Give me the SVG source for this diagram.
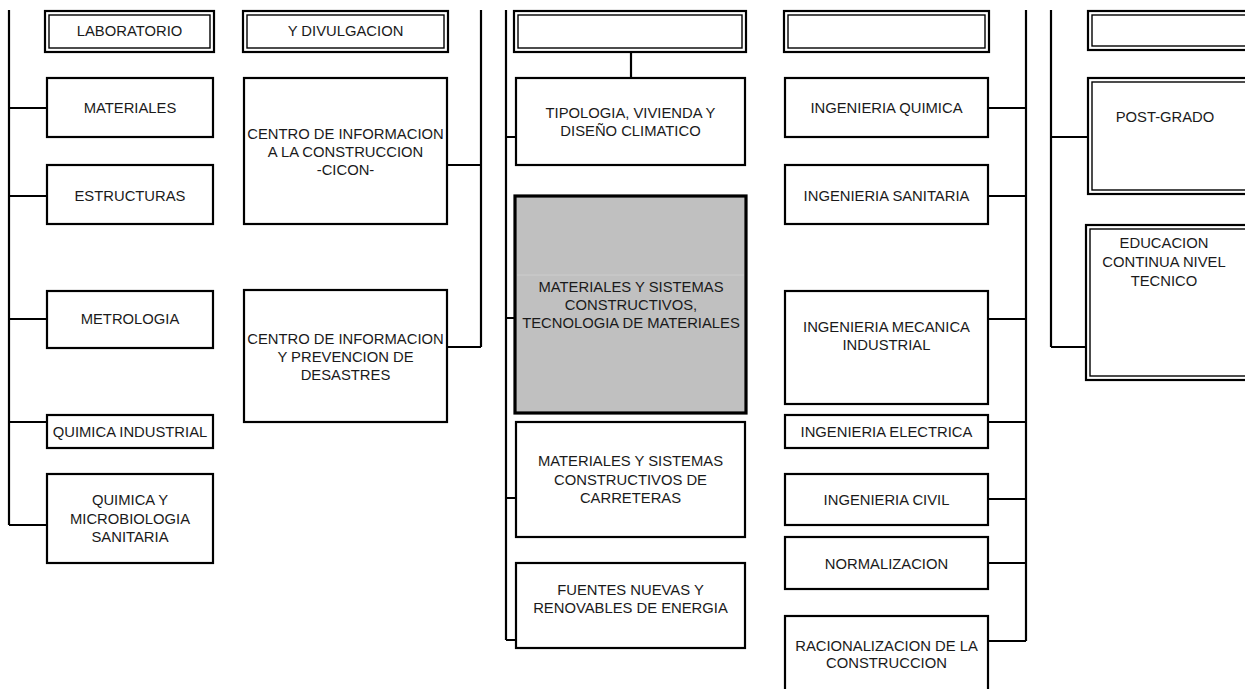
<svg xmlns="http://www.w3.org/2000/svg" width="1245" height="689" viewBox="0 0 1245 689">
<style>
.bx{fill:#fff;stroke:#000;stroke-width:2.2}
.gx{fill:#c0c0c0;stroke:#000;stroke-width:3.2}
.do{fill:#fff;stroke:#000;stroke-width:2.2}
.di{fill:none;stroke:#000;stroke-width:1.4}
.ln{fill:none;stroke:#000;stroke-width:2.2}
text{font-family:"Liberation Sans",Arial,sans-serif;font-size:14.8px;fill:#1a1a1a;text-anchor:middle}
</style>
<rect width="1245" height="689" fill="#fff"/>
<g id="connectors">
<path class="ln" d="M9,10V525M9,108H47M9,196H47M9,319H47M9,422H47M9,525H47"/>
<path class="ln" d="M481,10V347M447,165H481M447,347H481"/>
<path class="ln" d="M506,10V640M506,137H516M506,318H515M506,498H516M506,640H516"/>
<path class="ln" d="M631,52V78"/>
<path class="ln" d="M1026,10V641M988,108H1026M988,196H1026M988,319H1026M988,422H1026M988,499H1026M988,563H1026M988,641H1026"/>
<path class="ln" d="M1051,10V347M1051,137H1087M1051,347H1085"/>
</g>
<g id="n-laboratorio">
<rect class="do" x="45" y="11" width="169" height="41"/><rect class="di" x="49" y="15" width="161" height="33"/>
<text x="129.5" y="36">LABORATORIO</text>
</g>
<g id="n-divulgacion">
<rect class="do" x="243" y="11" width="205" height="41"/><rect class="di" x="247" y="15" width="197" height="33"/>
<text x="345.5" y="36">Y DIVULGACION</text>
</g>
<g id="n-top3">
<rect class="do" x="514" y="11" width="232" height="41"/><rect class="di" x="518" y="15" width="224" height="33"/>
</g>
<g id="n-top4">
<rect class="do" x="784" y="11" width="205" height="41"/><rect class="di" x="788" y="15" width="197" height="33"/>
</g>
<g id="n-top5">
<rect class="do" x="1088" y="11" width="170" height="39"/><rect class="di" x="1092" y="15" width="170" height="31"/>
</g>
<g id="n-materiales">
<rect class="bx" x="47" y="78" width="166" height="59"/>
<text x="130" y="113">MATERIALES</text>
</g>
<g id="n-estructuras">
<rect class="bx" x="47" y="165" width="166" height="59"/>
<text x="130" y="201">ESTRUCTURAS</text>
</g>
<g id="n-metrologia">
<rect class="bx" x="47" y="291" width="166" height="57"/>
<text x="130" y="324">METROLOGIA</text>
</g>
<g id="n-quimica-industrial">
<rect class="bx" x="47" y="415" width="166" height="33"/>
<text x="130" y="437">QUIMICA INDUSTRIAL</text>
</g>
<g id="n-quimica-micro">
<rect class="bx" x="47" y="474" width="166" height="89"/>
<text x="130" y="505">QUIMICA Y</text>
<text x="130" y="523.5">MICROBIOLOGIA</text>
<text x="130" y="542">SANITARIA</text>
</g>
<g id="n-cicon">
<rect class="bx" x="244" y="78" width="203" height="146"/>
<text x="345.5" y="139">CENTRO DE INFORMACION</text>
<text x="345.5" y="157">A LA CONSTRUCCION</text>
<text x="345.5" y="175">-CICON-</text>
</g>
<g id="n-desastres">
<rect class="bx" x="244" y="290" width="203" height="132"/>
<text x="345.5" y="344">CENTRO DE INFORMACION</text>
<text x="345.5" y="362">Y PREVENCION DE</text>
<text x="345.5" y="380">DESASTRES</text>
</g>
<g id="n-tipologia">
<rect class="bx" x="516" y="78" width="229" height="87"/>
<text x="630.5" y="118">TIPOLOGIA, VIVIENDA Y</text>
<text x="630.5" y="136">DISEÑO CLIMATICO</text>
</g>
<g id="n-materiales-sistemas">
<rect class="gx" x="515" y="196" width="231" height="217"/>
<line x1="517" y1="275" x2="744" y2="275" stroke="#cdcdcd" stroke-width="1"/>
<text x="631" y="292">MATERIALES Y SISTEMAS</text>
<text x="631" y="310">CONSTRUCTIVOS,</text>
<text x="631" y="328">TECNOLOGIA DE MATERIALES</text>
</g>
<g id="n-carreteras">
<rect class="bx" x="516" y="422" width="229" height="115"/>
<text x="630.5" y="466">MATERIALES Y SISTEMAS</text>
<text x="630.5" y="484.5">CONSTRUCTIVOS DE</text>
<text x="630.5" y="503">CARRETERAS</text>
</g>
<g id="n-fuentes">
<rect class="bx" x="516" y="563" width="229" height="85"/>
<text x="630.5" y="595">FUENTES NUEVAS Y</text>
<text x="630.5" y="613">RENOVABLES DE ENERGIA</text>
</g>
<g id="n-ing-quimica">
<rect class="bx" x="785" y="78" width="203" height="59"/>
<text x="886.5" y="113">INGENIERIA QUIMICA</text>
</g>
<g id="n-ing-sanitaria">
<rect class="bx" x="785" y="165" width="203" height="59"/>
<text x="886.5" y="201">INGENIERIA SANITARIA</text>
</g>
<g id="n-ing-mecanica">
<rect class="bx" x="785" y="291" width="203" height="113"/>
<text x="886.5" y="332">INGENIERIA MECANICA</text>
<text x="886.5" y="350">INDUSTRIAL</text>
</g>
<g id="n-ing-electrica">
<rect class="bx" x="785" y="415" width="203" height="33"/>
<text x="886.5" y="437">INGENIERIA ELECTRICA</text>
</g>
<g id="n-ing-civil">
<rect class="bx" x="785" y="474" width="203" height="51"/>
<text x="886.5" y="504.5">INGENIERIA CIVIL</text>
</g>
<g id="n-normalizacion">
<rect class="bx" x="785" y="537" width="203" height="52"/>
<text x="886.5" y="568.5">NORMALIZACION</text>
</g>
<g id="n-racionalizacion">
<rect class="bx" x="785" y="616" width="203" height="90"/>
<text x="886.5" y="651">RACIONALIZACION DE LA</text>
<text x="886.5" y="668">CONSTRUCCION</text>
</g>
<g id="n-postgrado">
<rect class="do" x="1088" y="78" width="170" height="116"/><rect class="di" x="1092" y="82" width="170" height="108"/>
<text x="1165" y="122">POST-GRADO</text>
</g>
<g id="n-educacion">
<rect class="do" x="1086" y="225" width="170" height="155"/><rect class="di" x="1090" y="229" width="170" height="147"/>
<text x="1164" y="248">EDUCACION</text>
<text x="1164" y="267">CONTINUA NIVEL</text>
<text x="1164" y="286">TECNICO</text>
</g>
</svg>
